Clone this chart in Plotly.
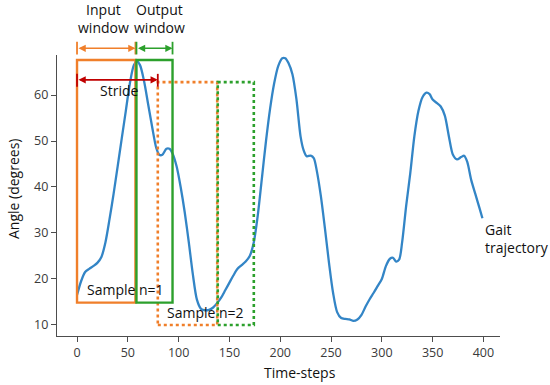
import plotly.graph_objects as go

# ---- data ----
time_steps = [0, 4, 8, 12, 16, 20, 24, 28, 32, 36, 40, 44, 48, 52, 56, 59, 62, 66, 70, 74,
              78, 81, 84, 88, 91, 94, 98, 102, 106, 110, 114, 118, 122, 126, 130, 134, 138,
              142, 146, 150, 154, 158, 162, 166, 170, 174, 178, 182, 186, 190, 194, 198, 202,
              205, 208, 212, 216, 220, 223, 226, 230, 233, 236, 240, 244, 248, 252, 256, 260,
              264, 268, 272, 276, 280, 284, 288, 292, 296, 300, 304, 308, 311, 314, 317, 320,
              324, 328, 332, 336, 340, 344, 347, 350, 354, 358, 362, 366, 370, 374, 378, 381,
              384, 388, 392, 396, 399]
angle = [16.5, 19.5, 21.5, 22.2, 22.8, 23.5, 24.8, 28, 33, 38.5, 44.5, 50.5, 56.5, 62.5, 66.5,
         67.3, 66.5, 63, 58, 53, 48.5, 47, 47, 48.3, 48.3, 47.3, 44.5, 40, 34.5, 28, 21, 15.5,
         13.5, 13.2, 13.3, 13.8, 14.8, 16, 17.6, 19.2, 20.8, 22.2, 23, 23.8, 25, 28, 34, 42, 50,
         57, 62.5, 66.3, 68, 68, 67, 64.5, 59, 51, 48, 46.7, 46.8, 46.3, 43.5, 38, 31, 23.5, 17,
         12.8, 11.5, 11.3, 11.2, 10.9, 11.2, 12.2, 14, 15.6, 17, 18.5, 20, 22.8, 24.4, 24.6, 23.8,
         24.2, 28, 36, 43, 51, 56.5, 59.5, 60.5, 60.2, 59, 58.3, 57.5, 55.5, 51, 47, 46, 46.5,
         46.8, 45.5, 41.5, 38.5, 35.5, 33.2]

x_ticks = [0, 50, 100, 150, 200, 250, 300, 350, 400]
y_ticks = [10, 20, 30, 40, 50, 60]

input_window_1 = [0, 57.5]
output_window_1 = [58.5, 94]
input_window_2 = [79.5, 138]
output_window_2 = [138.5, 174]
sample_1_angle = [14.85, 67.6]
sample_2_angle = [10, 62.8]
stride = [0, 79.5]
stride_angle = 63.3

BLUE = "#3385c6"
ORANGE = "#f07f2a"
GREEN = "#2ca02c"
RED = "#c00000"
FONT = "Open Sans"

fig = go.Figure()
fig.add_trace(go.Scatter(x=time_steps, y=angle, mode="lines",
                         line=dict(color=BLUE, width=2.3, shape="spline", smoothing=0.8),
                         hoverinfo="skip", showlegend=False))

def rect(xs, ys, color, dash):
    fig.add_shape(type="rect", xref="x", yref="y", x0=xs[0], x1=xs[1], y0=ys[0], y1=ys[1],
                  line=dict(color=color, width=2.4 if dash == "solid" else 2.6, dash=dash),
                  fillcolor="rgba(0,0,0,0)", layer="above")

rect(input_window_2, sample_2_angle, ORANGE, "dot")
rect(output_window_2, sample_2_angle, GREEN, "dot")
rect(input_window_1, sample_1_angle, ORANGE, "solid")
rect(output_window_1, sample_1_angle, GREEN, "solid")

def dbl_arrow(xs, y, yref, color, bar_lo, bar_hi):
    fig.add_annotation(x=xs[1], y=y, xref="x", yref=yref, ax=xs[0], ay=0,
                       axref="x", ayref="pixel", text="", showarrow=True,
                       arrowhead=2, arrowside="end+start", arrowsize=0.9,
                       arrowwidth=1.6, arrowcolor=color, standoff=0, startstandoff=0)
    for xv in xs:
        fig.add_shape(type="line", xref="x", yref=yref, x0=xv, x1=xv, y0=bar_lo, y1=bar_hi,
                      line=dict(color=color, width=1.8), layer="above")

# header arrows (above the plot area, paper coordinates vertically)
dbl_arrow(input_window_1, 1.0238, "paper", ORANGE, 1.002, 1.047)
dbl_arrow(output_window_1, 1.0238, "paper", GREEN, 1.002, 1.047)
# stride arrow
dbl_arrow(stride, stride_angle, "y", RED, 61.8, 64.6)

txt = dict(family=FONT, size=14, color="#111111")
fig.add_annotation(x=25.6, y=1.13, xref="x", yref="paper", text="Input<br>window",
                   showarrow=False, font=txt, xanchor="center", yanchor="middle")
fig.add_annotation(x=80.7, y=1.13, xref="x", yref="paper", text="Output<br>window",
                   showarrow=False, font=txt, xanchor="center", yanchor="middle")
fig.add_annotation(x=41.3, y=60.9, xref="x", yref="y", text="Stride",
                   showarrow=False, font=txt, xanchor="center", yanchor="middle")
fig.add_annotation(x=48.0, y=17.8, xref="x", yref="y", text="Sample n=1",
                   showarrow=False, font=txt, xanchor="center", yanchor="middle")
fig.add_annotation(x=126.8, y=12.7, xref="x", yref="y", text="Sample n=2",
                   showarrow=False, font=txt, xanchor="center", yanchor="middle")
fig.add_annotation(x=399.6, y=28.9, xref="x", yref="y", text="Gait<br>trajectory",
                   showarrow=False, font=txt, xanchor="left", yanchor="middle", align="left")
fig.add_annotation(x=-0.0993, y=0.523, xref="paper", yref="paper", text="Angle (degrees)",
                   showarrow=False, font=txt, textangle=-90, xanchor="center", yanchor="middle")
fig.add_annotation(x=0.5485, y=-0.13, xref="paper", yref="paper", text="Time-steps",
                   showarrow=False, font=txt, xanchor="center", yanchor="middle")

axis_common = dict(showgrid=False, zeroline=False, showline=True, linecolor="#4d4d4d",
                   linewidth=1.3, ticks="outside", ticklen=5, tickwidth=1.2,
                   tickcolor="#4d4d4d", tickfont=dict(family=FONT, size=12.5, color="#3a3a3a"),
                   mirror=False, automargin=False)

fig.update_layout(
    width=550, height=385,
    margin=dict(l=57, r=50, t=55, b=49, autoexpand=False),
    plot_bgcolor="white", paper_bgcolor="white",
    xaxis=dict(range=[-19.7, 416.3], tickvals=x_ticks, **axis_common),
    yaxis=dict(range=[7.6, 68.7], tickvals=y_ticks, **axis_common),
    showlegend=False,
)

# remove the default page margin so the figure sits at the window's top-left corner
fig.write_html("out.html", config={"displayModeBar": False},
               post_script="document.body.style.margin='0';")
